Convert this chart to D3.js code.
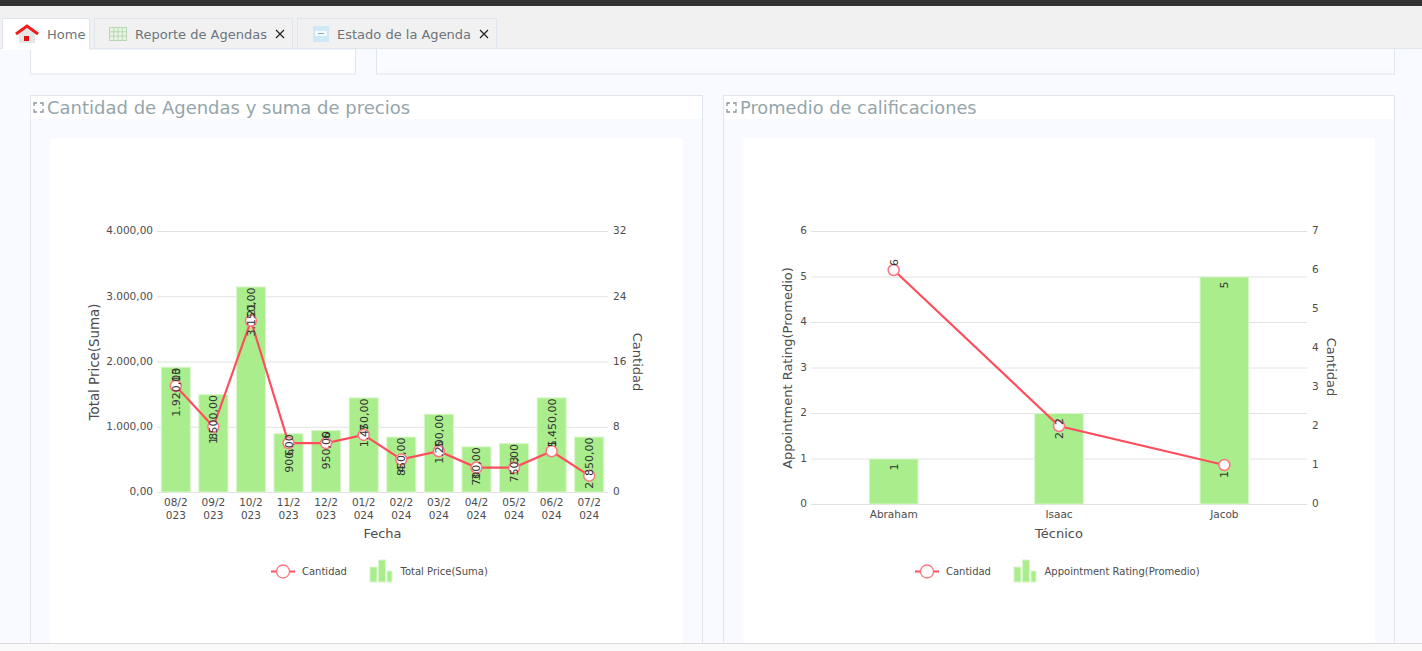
<!DOCTYPE html>
<html><head><meta charset="utf-8">
<script src="https://cdn.jsdelivr.net/npm/d3@7/dist/d3.min.js"></script>
<style>html,body{margin:0;padding:0;overflow:hidden;background:#f8faff}svg{display:block}text{font-family:"DejaVu Sans",sans-serif}</style>
</head><body><svg id="c" width="1422" height="651"></svg>
<script>
const tabNames = ["Home","Reporte de Agendas","Estado de la Agenda"];
const titleLeft = "Cantidad de Agendas y suma de precios";
const titleRight = "Promedio de calificaciones";
const months = ["08/2023","09/2023","10/2023","11/2023","12/2023","01/2024","02/2024","03/2024","04/2024","05/2024","06/2024","07/2024"];
const totalPrice = [1920,1500,3150,900,950,1450,850,1200,700,750,1450,850];
const cantidadMonths = [13,8,21,6,6,7,4,5,3,3,5,2];
const tecnicos = ["Abraham","Isaac","Jacob"];
const rating = [1,2,5];
const cantidadTec = [6,2,1];
const priceTicks = [0,1000,2000,3000,4000];
const countTicksL = [0,8,16,24,32];
const ratingTicks = [0,1,2,3,4,5,6];
const countTicksR = [0,1,2,3,4,5,6,7];

const svg = d3.select("#c");
const GREEN="#aaed8c", GREENB="#d9f6cb", RED="#ff4d5e", REDM="#ff7481", GRID="#e2e2e2", TXT="#4d4d4d", BORDER="#dfe6ee";
const loc = d3.formatLocale({decimal:",",thousands:".",grouping:[3],currency:["",""]});
const fmt2 = loc.format(",.2f");

function rect(x,y,w,h,fill,stroke){return svg.append("rect").attr("x",x).attr("y",y).attr("width",w).attr("height",h).attr("fill",fill).attr("stroke",stroke||"none");}
function text(s,x,y,size,fill,anchor){return svg.append("text").text(s).attr("x",x).attr("y",y).attr("font-size",size).attr("fill",fill).attr("text-anchor",anchor||"start");}

// Page chrome
rect(0,0,1422,651,"#f8faff");
rect(0,0,1422,6,"#333333");
rect(0,6,1422,42,"#f1f1f1");
svg.append("line").attr("x1",0).attr("x2",1422).attr("y1",48.5).attr("y2",48.5).attr("stroke",BORDER);
rect(30.5,49,325,25,"#fff",BORDER);
rect(376.5,49,1018,25,"#f8faff",BORDER);
rect(377,49,1017,20,"#fafbff");

// Tabs
rect(2.5,18.5,87,30,"#fff",BORDER);
rect(94.5,18.5,198,30,"#f1f1f1",BORDER);
rect(297.5,18.5,199,30,"#f1f1f1",BORDER);
rect(3,47,86,3,"#fff");
text(tabNames[0],47,39,13,"#6c757d");
text(tabNames[1],135,39,13,"#6c757d");
text(tabNames[2],337,39,13,"#6c757d");
// house icon
svg.append("path").attr("d","M19 30V43H35V30L27 26Z").attr("fill","#e6e6e6");
svg.append("path").attr("d","M16 34L27 26L38 34").attr("fill","none").attr("stroke","#ee1c1c").attr("stroke-width",3);
rect(24,36,5,5,"#e01010");
// grid icon
rect(109.5,27.5,17,13,"#e8f3e4","#b9d6b4");
d3.range(1,4).forEach(i=>svg.append("line").attr("x1",109.5+i*4.25).attr("x2",109.5+i*4.25).attr("y1",27.5).attr("y2",40.5).attr("stroke","#b9d6b4"));
d3.range(1,3).forEach(i=>svg.append("line").attr("x1",109.5).attr("x2",126.5).attr("y1",27.5+i*4.3).attr("y2",27.5+i*4.3).attr("stroke","#b9d6b4"));
// form icon
rect(313,26,16,16,"#cfe8f5");
rect(315,31,12,5,"#f3f9fc");
rect(318,33,6,1,"#8aa");
// close marks
[[280,34],[484,34]].forEach(([x,y])=>svg.append("path").attr("d",`M${x-4} ${y-4}L${x+4} ${y+4}M${x+4} ${y-4}L${x-4} ${y+4}`).attr("stroke","#222").attr("stroke-width",1.2));

// Panel
function panel(x,w,title,titleSize){
  rect(x+.5,95.5,w,560,"#f8faff",BORDER);
  rect(x+1,96,w-1,23,"#fff");
  rect(x+20.5,138,w-39.5,520,"#fff");
  text(title,x+17,114,titleSize,"#95a5ab");
  const ix=x+4, iy=103;
  svg.append("path").attr("d",`M${ix} ${iy+3}V${iy}H${ix+3}M${ix+6} ${iy}H${ix+9}V${iy+3}M${ix+9} ${iy+6}V${iy+9}H${ix+6}M${ix+3} ${iy+9}H${ix}V${iy+6}`)
    .attr("fill","none").attr("stroke","#8a979c").attr("stroke-width",1.3);
}
panel(30,672,titleLeft,18);
panel(723,671,titleRight,17.8);

function chart(o){
  const x=d3.scaleBand().domain(o.cats).range([o.x0,o.x1]).paddingInner(o.pad).paddingOuter(o.pad/2);
  const yL=d3.scaleLinear().domain(o.lDom).range([o.y0,o.y1]);
  const yR=d3.scaleLinear().domain(o.rDom).range([o.y0,o.y1]);
  const g=svg.append("g");
  const gl=g.append("g").attr("transform",`translate(${o.x0},0)`).call(d3.axisLeft(yL).tickValues(o.lTicks).tickSize(0).tickPadding(4).tickFormat(o.lFmt));
  gl.select(".domain").remove();
  gl.selectAll("text").attr("font-size",10.5).attr("fill",TXT).attr("dy","0.27em");
  gl.selectAll("line").attr("x2",o.x1-o.x0).attr("stroke",GRID);
  const gr=g.append("g").attr("transform",`translate(${o.x1},0)`).call(d3.axisRight(yR).tickValues(o.rTicks).tickSize(0).tickPadding(5).tickFormat(d3.format("d")));
  gr.select(".domain").remove();
  gr.selectAll("text").attr("font-size",10.5).attr("fill",TXT).attr("dy","0.27em");
  gr.selectAll("line").remove();
  // bars
  g.selectAll(".bar").data(o.bars).join("rect").attr("class","bar")
    .attr("x",(d,i)=>x(o.cats[i])+.5).attr("width",x.bandwidth()-1)
    .attr("y",d=>yL(d)+.5).attr("height",d=>o.y0-yL(d)-.5)
    .attr("fill",GREEN).attr("stroke",GREENB);
  // x tick labels
  const ga=g.append("g");
  const lab=ga.selectAll("text").data(o.cats).join("text").attr("text-anchor","middle").attr("font-size",10.5).attr("fill",TXT);
  lab.each(function(d){
    const parts=o.wrap?[d.slice(0,4),d.slice(4)]:[d];
    d3.select(this).selectAll("tspan").data(parts).join("tspan")
      .attr("x",x(d)+x.bandwidth()/2).attr("y",(p,i)=>o.labY+i*13).text(p=>p);
  });
  // line
  const cx=i=>x(o.cats[i])+x.bandwidth()/2;
  const line=d3.line().x((d,i)=>cx(i)).y(d=>yR(d));
  g.append("path").attr("d",line(o.line)).attr("fill","none").attr("stroke",RED).attr("stroke-width",2.2);
  g.selectAll(".pt").data(o.line).join("circle").attr("class","pt").attr("cx",(d,i)=>cx(i)).attr("cy",d=>yR(d)).attr("r",5.5).attr("fill","#fff").attr("stroke",REDM).attr("stroke-width",1.5);
  // bar labels
  g.selectAll(".bl").data(o.bars).join("text").attr("class","bl").text(o.barFmt)
    .attr("text-anchor","end").attr("font-size",11).attr("fill","#333")
    .attr("transform",(d,i)=>`translate(${cx(i)+4},${yL(d)+o.barPad}) rotate(-90)`);
  // line labels
  g.selectAll(".ll").data(o.line).join("text").attr("class","ll").text(d=>d)
    .attr("font-size",11).attr("fill","#333")
    .attr("text-anchor",(d,i)=>i>0&&d<o.line[i-1]?"end":"start")
    .attr("transform",(d,i)=>{const below=i>0&&d<o.line[i-1];return `translate(${cx(i)+4},${yR(d)+(below?6:-4)}) rotate(-90)`;});
  // axis titles
  svg.append("text").text(o.lTitle).attr("font-size",o.lTitleSize).attr("fill",TXT).attr("text-anchor","middle").attr("transform",`translate(${o.lTitleX},${o.lTitleY}) rotate(-90)`);
  svg.append("text").text("Cantidad").attr("font-size",13).attr("fill",TXT).attr("text-anchor","middle").attr("transform",`translate(${o.rTitleX},${o.rTitleY}) rotate(90)`);
  text(o.xTitle,(o.x0+o.x1)/2,538,13,TXT,"middle");
  // legend
  const lg=svg.append("g").attr("transform",`translate(${o.legX},571.5)`);
  lg.append("line").attr("x1",0).attr("x2",24).attr("stroke",RED).attr("stroke-width",2);
  lg.append("circle").attr("cx",12).attr("r",6.5).attr("fill","#fff").attr("stroke",REDM).attr("stroke-width",1.3);
  lg.append("text").text("Cantidad").attr("x",31).attr("y",3.5).attr("font-size",10).attr("fill",TXT);
  [[99,8,15],[107.5,8,22],[116,6,11]].forEach(([bx,w,h])=>lg.append("rect").attr("x",bx).attr("y",10.5-h).attr("width",w-1).attr("height",h).attr("fill",GREEN).attr("stroke",GREENB));
  lg.append("text").text(o.legText).attr("x",129.5).attr("y",3.5).attr("font-size",10).attr("fill",TXT);
}

chart({cats:months,bars:totalPrice,line:cantidadMonths,x0:157,x1:608,y0:492,y1:231,pad:.2,
  lDom:[0,4000],rDom:[0,32],lTicks:priceTicks,rTicks:countTicksL,lFmt:fmt2,barFmt:fmt2,barPad:1,wrap:true,labY:506,
  lTitle:"Total Price(Suma)",lTitleSize:13.4,lTitleX:99,lTitleY:362,rTitleX:633,rTitleY:362,xTitle:"Fecha",legX:271,legText:"Total Price(Suma)"});
chart({cats:tecnicos,bars:rating,line:cantidadTec,x0:811,x1:1307,y0:504,y1:231,pad:.7,
  lDom:[0,6],rDom:[0,7],lTicks:ratingTicks,rTicks:countTicksR,lFmt:d=>d,barFmt:d=>d,barPad:5,wrap:false,labY:518,
  lTitle:"Appointment Rating(Promedio)",lTitleSize:13,lTitleX:792,lTitleY:368,rTitleX:1327,rTitleY:367,xTitle:"Técnico",legX:915,legText:"Appointment Rating(Promedio)"});

// bottom bar
rect(0,643,1422,8,"#f9f9f9");
svg.append("line").attr("x1",0).attr("x2",1422).attr("y1",643.5).attr("y2",643.5).attr("stroke","#dcdcdc");
</script></body></html>
